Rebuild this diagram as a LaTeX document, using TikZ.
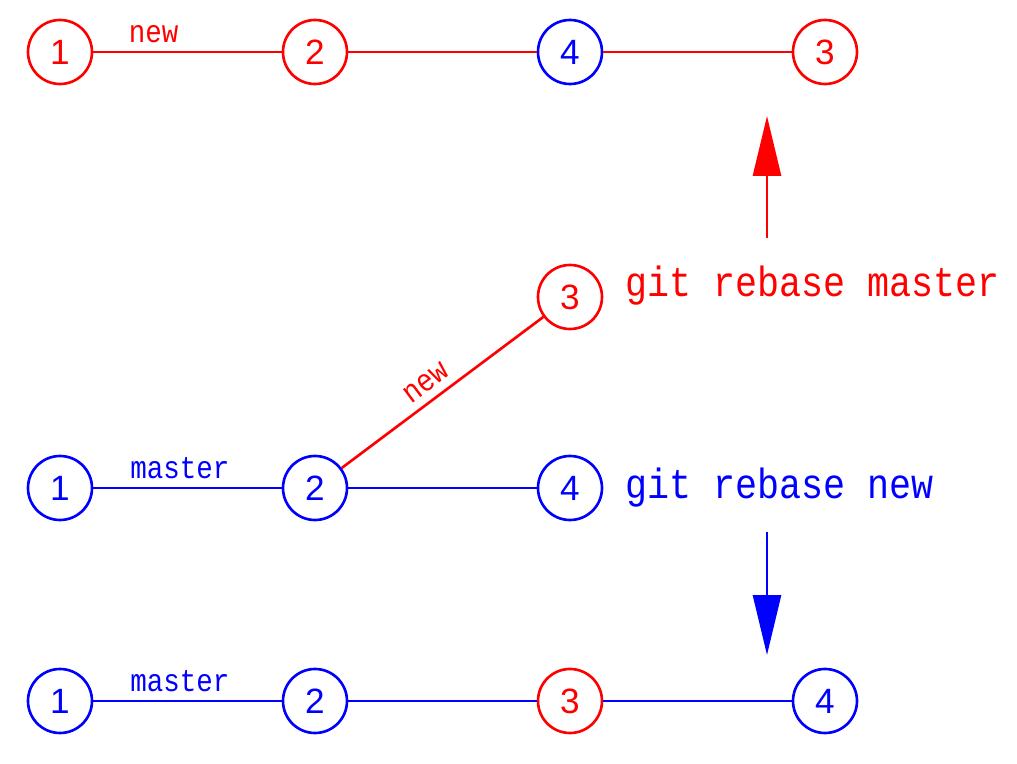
\documentclass[tikz,border=0pt]{standalone}
\usepackage{fontspec}
\setmainfont{Liberation Sans}
\newfontfamily\gitfont[FakeStretch=0.87]{Liberation Mono}
\usetikzlibrary{positioning,calc,arrows.meta}

\begin{document}
\begin{tikzpicture}[
    commit/.style={draw, circle, line width=1.5pt, minimum size=1.28cm,
      inner sep=0pt, fill=white, font=\fontsize{20}{24}\selectfont},
    newc/.style={commit, draw=red, text=red},
    masterc/.style={commit, draw=blue, text=blue},
    branch/.style={font=\gitfont\fontsize{18}{20}\selectfont, inner sep=0.15cm},
    cmd/.style={font=\gitfont\fontsize{24}{28}\selectfont, inner sep=0pt, anchor=base west},
    move/.style={-{Triangle[length=1.2cm,width=0.56cm]}, line width=1.6pt}
  ]
        \useasboundingbox (0,0) rectangle (20.34,15.26);

        %top row: after git rebase master
        \node[newc] (t1) at (1.2,14.22) {1};
        \node[newc] (t2) at (6.3,14.22) {2};
        \node[masterc] (t4) at (11.4,14.22) {4};
        \node[newc] (t3) at (16.5,14.22) {3};

        %middle row: before the rebase
        \node[masterc] (m1) at (1.2,5.5) {1};
        \node[masterc] (m2) at (6.3,5.5) {2};
        \node[masterc] (m4) at (11.4,5.5) {4};
        \node[newc] (m3) at (11.4,9.32) {3};

        %bottom row: after git rebase new
        \node[masterc] (b1) at (1.2,1.24) {1};
        \node[masterc] (b2) at (6.3,1.24) {2};
        \node[newc] (b3) at (11.4,1.24) {3};
        \node[masterc] (b4) at (16.5,1.24) {4};

        %commands
        \node[cmd, red] (rm) at (12.5,9.32) {git rebase master};
        \node[cmd, blue] (rn) at (12.5,5.28) {git rebase new};

        \coordinate (up0) at (15.34,10.5);
        \coordinate (up1) at (15.34,12.94);
        \coordinate (dn0) at (15.34,4.62);
        \coordinate (dn1) at (15.34,2.16);

        \path[red, line width=1.5pt]
            (t1) edge node[branch, above, pos=0.32] {new} (t2)
            (t2) edge (t4)
            (t4) edge (t3)
            (m2) edge node[branch, above, sloped, pos=0.47] {new} (m3)
            ;

        \path[blue, line width=1.5pt]
            (m1) edge node[branch, above, pos=0.46] {master} (m2)
            (m2) edge (m4)
            (b1) edge node[branch, above, pos=0.46] {master} (b2)
            (b2) edge (b3)
            (b3) edge (b4)
            ;

        \draw[move, red] (up0) -- (up1);
        \draw[move, blue] (dn0) -- (dn1);
\end{tikzpicture}
\end{document}
